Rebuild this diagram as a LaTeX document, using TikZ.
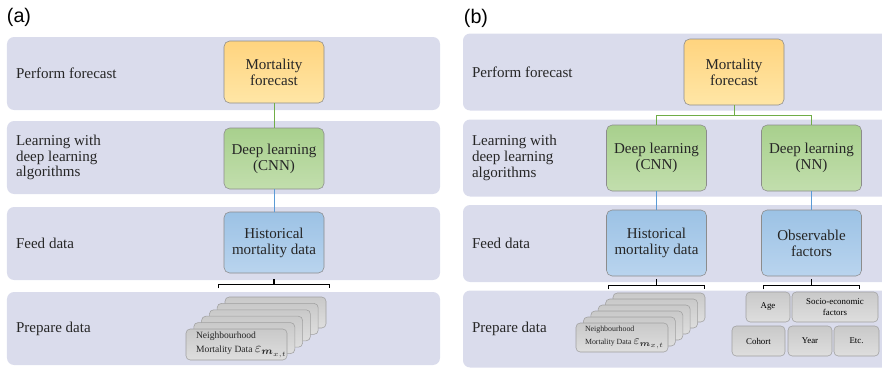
\documentclass[tikz,border=0pt]{standalone}
\usepackage{fontspec}
\usepackage{amsmath}
\setmainfont{Liberation Serif}
\newfontfamily\panelfont{Liberation Sans}
\usetikzlibrary{positioning}
\newcommand{\mainsize}{\fontsize{10.7}{11.3}\selectfont}
\definecolor{band-fill}{HTML}{DADCEC}
\definecolor{box-border}{HTML}{8C8C8C}
\definecolor{forecast-top}{HTML}{FFD47F}
\definecolor{forecast-bottom}{HTML}{FFE6A6}
\definecolor{learn-top}{HTML}{A8D08D}
\definecolor{learn-bottom}{HTML}{C2DEAD}
\definecolor{data-top}{HTML}{9CC2E5}
\definecolor{data-bottom}{HTML}{B9D4EE}
\definecolor{card-top}{HTML}{C9C9C9}
\definecolor{card-bottom}{HTML}{DEDEDE}
\definecolor{card-border}{HTML}{A0A0A0}
\definecolor{link-green}{HTML}{70AD47}
\definecolor{link-blue}{HTML}{5B9BD5}
\tikzset{
  band-node/.style={fill=band-fill, rounded corners=5pt, inner sep=0pt},
  band-label/.style={inner sep=0pt, align=left, anchor=west, font=\mainsize, text=black!85},
  panel-label/.style={inner sep=0pt, font=\panelfont\fontsize{14}{14}\selectfont},
  stage-node/.style={
    draw=box-border, rounded corners=4pt, minimum width=2.5cm,
    align=center, font=\mainsize, text=black!85
  },
  forecast-node/.style={stage-node, top color=forecast-top, bottom color=forecast-bottom},
  learn-node/.style={stage-node, top color=learn-top, bottom color=learn-bottom},
  data-node/.style={stage-node, top color=data-top, bottom color=data-bottom},
  card-node/.style={
    draw=card-border, rounded corners=3pt, top color=card-top, bottom color=card-bottom
  },
  card-text/.style={inner sep=0pt, align=left, text=black!85},
  factor-node/.style={
    card-node, minimum height=0.75cm, inner sep=1pt, align=center,
    font=\fontsize{6.3}{7.8}\selectfont
  },
  tree-link/.style={draw=link-green, semithick},
  feed-link/.style={draw=link-blue, semithick},
  bracket/.style={draw=black, thick}
}

\begin{document}
\begin{tikzpicture}
  \useasboundingbox (0,0) rectangle (22.05,-9.175);

  \node[panel-label] (tag-a) at (0.475, -0.43) {(a)};
  \node[panel-label] (tag-b) at (11.9, -0.45) {(b)};

  \node[band-node, minimum width=10.825cm, minimum height=1.825cm] (band-a1) at (5.5875, -1.8375) {};
  \node[band-node, minimum width=10.825cm, minimum height=1.825cm] (band-a2) at (5.5875, -3.9375) {};
  \node[band-node, minimum width=10.825cm, minimum height=1.825cm] (band-a3) at (5.5875, -6.0875) {};
  \node[band-node, minimum width=10.825cm, minimum height=1.825cm] (band-a4) at (5.5875, -8.2125) {};
  \node[band-node, minimum width=10.8cm, minimum height=1.925cm] (band-b1) at (16.975, -1.8) {};
  \node[band-node, minimum width=10.8cm, minimum height=1.925cm] (band-b2) at (16.975, -3.95) {};
  \node[band-node, minimum width=10.8cm, minimum height=1.925cm] (band-b3) at (16.975, -6.0875) {};
  \node[band-node, minimum width=10.8cm, minimum height=1.925cm] (band-b4) at (16.975, -8.225) {};

  \node[band-label, right=0.225cm of band-a1.west] (label-a1) {Perform forecast};
  \node[band-label, right=0.225cm of band-a2.west] (label-a2) {Learning with\\deep learning\\algorithms};
  \node[band-label, right=0.225cm of band-a3.west] (label-a3) {Feed data};
  \node[band-label, right=0.225cm of band-a4.west] (label-a4) {Prepare data};
  \node[band-label, right=0.225cm of band-b1.west] (label-b1) {Perform forecast};
  \node[band-label, right=0.225cm of band-b2.west] (label-b2) {Learning with\\deep learning\\algorithms};
  \node[band-label, right=0.225cm of band-b3.west] (label-b3) {Feed data};
  \node[band-label, right=0.225cm of band-b4.west] (label-b4) {Prepare data};

  \node[forecast-node, minimum height=1.55cm] (forecast-a) at (6.85, -1.8)    {Mortality\\forecast};
  \node[learn-node, minimum height=1.525cm]   (cnn-a)      at (6.85, -3.9625) {Deep learning\\(CNN)};
  \node[data-node, minimum height=1.525cm]    (hist-a)     at (6.85, -6.0625) {Historical\\mortality data};

  \node[forecast-node, minimum height=1.65cm] (forecast-b) at (18.35, -1.8)    {Mortality\\forecast};
  \node[learn-node, minimum height=1.65cm]    (cnn-b)      at (16.4125, -3.95) {Deep learning\\(CNN)};
  \node[learn-node, minimum height=1.65cm]    (nn-b)       at (20.2875, -3.95) {Deep learning\\(NN)};
  \node[data-node, minimum height=1.65cm]     (hist-b)     at (16.4125, -6.075) {Historical\\mortality data};
  \node[data-node, minimum height=1.65cm]     (obs-b)      at (20.2875, -6.075) {Observable\\factors};

  \draw[tree-link] (forecast-a) -- (cnn-a);
  \draw[feed-link] (cnn-a) -- (hist-a);
  \draw[tree-link] (forecast-b.south) -- ++(0,-0.25) -| (cnn-b.north);
  \draw[tree-link] (forecast-b.south) -- ++(0,-0.25) -| (nn-b.north);
  \draw[feed-link] (cnn-b) -- (hist-b);
  \draw[feed-link] (nn-b) -- (obs-b);

  \coordinate (brace-a)  at ([yshift=-0.275cm]hist-a.south);
  \coordinate (brace-b1) at ([yshift=-0.225cm]hist-b.south);
  \coordinate (brace-b2) at ([yshift=-0.225cm]obs-b.south);
  \draw[bracket] (brace-a) -- ++(0,0.125) (brace-a) ++(-1.39,-0.1) -- ++(0,0.1) -- ++(2.78,0) -- ++(0,-0.1);
  \draw[bracket] (brace-b1) -- ++(0,0.15) (brace-b1) ++(-1.19,-0.1) -- ++(0,0.1) -- ++(2.38,0) -- ++(0,-0.1);
  \draw[bracket] (brace-b2) -- ++(0,0.15) (brace-b2) ++(-1.19,-0.1) -- ++(0,0.1) -- ++(2.38,0) -- ++(0,-0.1);

  \foreach \k in {5,4,3,2,1,0}
    \node[card-node, minimum width=2.525cm, minimum height=0.775cm] (stack-a-\k) at (5.9125+0.195*\k, -8.6125+0.16*\k) {};
  \node[card-text, right=0.25cm of stack-a-0.west, font=\fontsize{6.8}{10.5}\selectfont] (stack-a)
    {Neighbourhood\\Mortality Data {\fontsize{10}{10}\selectfont$\varepsilon_{\boldsymbol{m}_{x,t}}$}};

  \foreach \k in {5,4,3,2,1,0}
    \node[card-node, minimum width=2.3cm, minimum height=0.725cm] (stack-b-\k) at (15.55+0.185*\k, -8.4375+0.15*\k) {};
  \node[card-text, right=0.225cm of stack-b-0.west, font=\fontsize{5.6}{9.5}\selectfont] (stack-b)
    {Neighbourhood\\Mortality Data {\fontsize{9}{9}\selectfont$\varepsilon_{\boldsymbol{m}_{x,t}}$}};

  \node[factor-node, minimum width=1.1cm]   (age)    at (19.2, -7.675)    {Age};
  \node[factor-node, minimum width=2.15cm]  (socio)  at (20.875, -7.675)  {Socio-economic\\factors};
  \node[factor-node, minimum width=1.325cm] (cohort) at (18.9625, -8.525) {Cohort};
  \node[factor-node, minimum width=1.1cm]   (year)   at (20.25, -8.525)   {Year};
  \node[factor-node, minimum width=1.125cm] (etc)    at (21.4125, -8.525) {Etc.};
\end{tikzpicture}
\end{document}
